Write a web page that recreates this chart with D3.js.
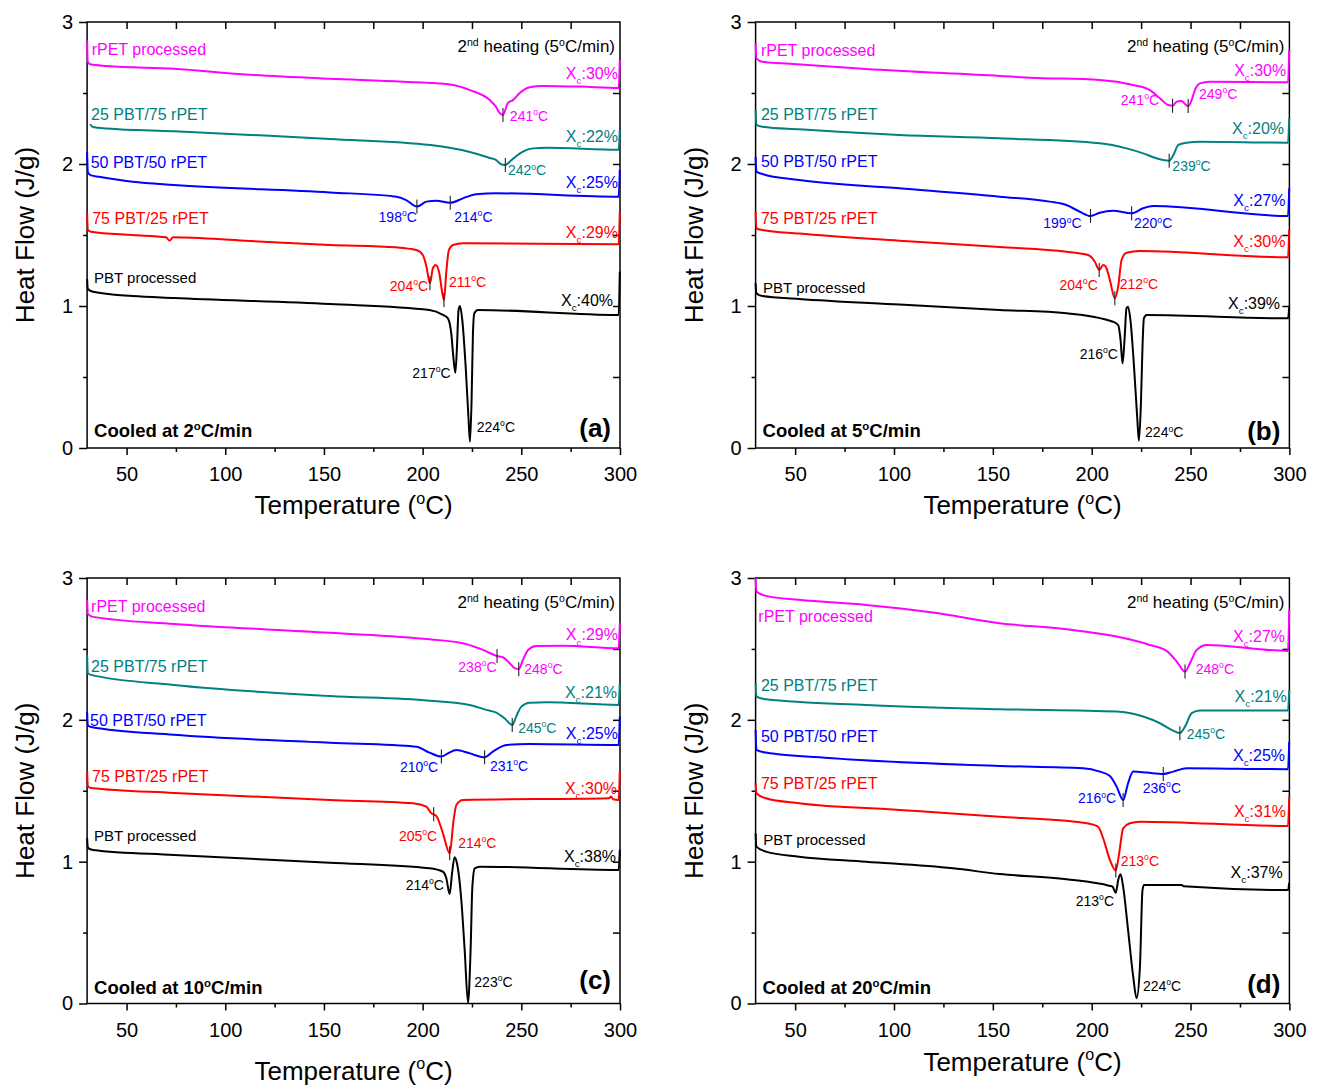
<!DOCTYPE html>
<html><head><meta charset="utf-8">
<script src="https://cdn.jsdelivr.net/npm/d3@7"></script>
<style>
body{margin:0;background:#fff;}
svg{display:block;font-family:"Liberation Sans",Arial,Helvetica,sans-serif;}
</style></head><body>
<svg id="chart" width="1320" height="1087"></svg>
<script>
// ---------------- DATA ----------------
const seriesNames = ["rPET processed","25 PBT/75 rPET","50 PBT/50 rPET","75 PBT/25 rPET","PBT processed"];
const seriesColors = ["#ff00ff","#008080","#0000ff","#ff0000","#000000"];
const xMajorTicks = [50,100,150,200,250,300];
const xMinorTicks = [75,125,175,225,275];
const xTopTicks = [50,75,100,125,150,175,200,225,250,275];
const yMajorTicks = [0,1,2,3];
const yMinorTicks = [0.5,1.5,2.5];
const yRightTicks = [0.5,1,1.5,2,2.5];
const coolingRates = ["2","5","10","20"];
const panelLetters = ["a","b","c","d"];

// panel (a) cooled at 2 C/min  [T (C), heat flow (J/g)]
const a_rPET = [[30.0,2.87],[30.3,2.72],[32,2.70],[40,2.69],[74,2.67],[110,2.63],[153,2.60],[190,2.58],[214,2.56],[224,2.52],[234,2.45],[237.3,2.40],[239,2.36],[240.7,2.345],[243.2,2.43],[245.8,2.45],[249.2,2.50],[254.2,2.54],[261,2.55],[280,2.545],[299.3,2.535],[299.9,2.73]];
const a_2575 = [[31.5,2.28],[33,2.26],[40,2.25],[74,2.23],[120,2.20],[153,2.176],[204,2.134],[224,2.085],[234,2.042],[237.3,2.028],[239,2.005],[241.9,1.993],[244.1,2.016],[247.5,2.056],[250.8,2.087],[255.9,2.11],[262.7,2.115],[299.3,2.10],[299.9,2.24]];
const a_5050 = [[30.0,2.085],[30.4,1.94],[32,1.92],[36,1.91],[53,1.875],[74,1.852],[153,1.80],[186.7,1.77],[191.7,1.746],[197.1,1.70],[201.9,1.735],[206.9,1.742],[214.0,1.727],[220.4,1.758],[227.2,1.787],[237.3,1.794],[299.3,1.77],[299.9,1.958]];
const a_7525 = [[30.0,1.657],[30.4,1.535],[32,1.523],[53,1.50],[70,1.484],[71.8,1.46],[73.5,1.484],[110,1.46],[153,1.43],[186.7,1.413],[196.8,1.394],[200.1,1.359],[201.9,1.28],[203.7,1.16],[205.2,1.266],[206.6,1.289],[208.3,1.242],[210.0,1.089],[210.8,1.042],[212.0,1.242],[213.3,1.394],[215.4,1.43],[220.4,1.442],[299.3,1.435],[299.9,1.664]];
const a_PBT = [[30.0,1.19],[30.4,1.12],[33,1.10],[53,1.07],[74,1.056],[153,1.014],[203.5,0.972],[210.3,0.937],[212.8,0.913],[214.5,0.808],[215.7,0.62],[216.6,0.53],[217.4,0.713],[218.2,0.972],[218.9,1.0],[220.1,0.901],[221.8,0.573],[223.2,0.22],[224.0,0.044],[224.8,0.338],[225.5,0.808],[226.2,0.949],[228.0,0.972],[299.3,0.937],[299.9,1.242]];

// panel (b) cooled at 5 C/min
const b_rPET = [[30.0,2.85],[30.4,2.744],[33.4,2.72],[43.6,2.709],[85.9,2.669],[153.4,2.62],[168.6,2.608],[204.1,2.592],[221,2.556],[229.4,2.521],[234.5,2.463],[238.7,2.415],[240.9,2.41],[243,2.439],[245.5,2.444],[247.2,2.423],[248.8,2.408],[250.6,2.451],[252.2,2.521],[254.8,2.568],[259.8,2.58],[299.3,2.575],[299.9,2.80]];
const b_2575 = [[30.0,2.38],[30.4,2.275],[33.4,2.263],[52,2.244],[102.7,2.204],[153.4,2.181],[204.1,2.146],[217.6,2.11],[226,2.075],[232.8,2.04],[239.2,2.023],[241.3,2.063],[243.8,2.134],[248,2.15],[254.8,2.157],[299.3,2.15],[299.9,2.322]];
const b_5050 = [[30.0,2.051],[30.4,1.946],[33.4,1.93],[52,1.887],[102.7,1.829],[153.4,1.77],[178.8,1.735],[187.2,1.711],[194,1.664],[199.4,1.634],[204.1,1.657],[210.8,1.671],[220.2,1.653],[226,1.688],[231.1,1.704],[299.3,1.634],[299.9,1.829]];
const b_7525 = [[30.0,1.664],[30.4,1.547],[33.4,1.535],[52,1.51],[102.7,1.46],[153.4,1.415],[187.2,1.382],[198.2,1.359],[201.6,1.312],[203.8,1.254],[205.8,1.289],[207.1,1.277],[209.2,1.183],[211.7,1.054],[213.4,1.136],[215.1,1.324],[217.6,1.375],[224.4,1.387],[299.3,1.343],[299.9,1.535]];
const b_PBT = [[30.0,1.16],[30.4,1.09],[33.4,1.07],[52,1.05],[102.7,1.01],[153.4,0.972],[187.2,0.949],[210.8,0.889],[213.4,0.866],[214.6,0.761],[215.6,0.596],[216.6,0.761],[217.6,0.984],[218.4,0.995],[219.6,0.901],[221.3,0.596],[223,0.22],[223.9,0.051],[224.9,0.315],[225.7,0.713],[226.4,0.913],[227.8,0.937],[299.3,0.913],[299.9,0.99]];

// panel (c) cooled at 10 C/min
const c_rPET = [[30.0,2.846],[30.4,2.747],[33,2.726],[74,2.676],[153,2.614],[203.5,2.568],[220.4,2.54],[230.6,2.493],[237.7,2.45],[240.7,2.441],[244.1,2.399],[246.6,2.364],[248.7,2.357],[250.8,2.422],[253.4,2.493],[257.6,2.521],[271.1,2.523],[299.3,2.505],[299.9,2.681]];
const c_2575 = [[30.0,2.458],[30.4,2.33],[32,2.317],[74,2.246],[153,2.168],[203.5,2.135],[223.8,2.105],[232.3,2.07],[237.3,2.051],[241.5,2.011],[245.4,1.964],[247.4,2.023],[250,2.093],[254.2,2.121],[262.7,2.124],[299.3,2.105],[299.9,2.258]];
const c_5050 = [[30.0,2.055],[30.4,1.96],[32,1.95],[74,1.894],[153,1.839],[196.8,1.811],[203.5,1.769],[209.5,1.741],[212.8,1.764],[217.1,1.788],[223.8,1.764],[231.4,1.736],[235.6,1.776],[242.4,1.823],[254.2,1.83],[299.3,1.823],[299.9,2.023]];
const c_7525 = [[30.0,1.64],[30.4,1.53],[32,1.52],[74,1.485],[153,1.435],[195.1,1.412],[201.9,1.388],[204.4,1.341],[205.6,1.334],[207.2,1.317],[210.3,1.2],[213.7,1.059],[215.7,1.294],[217.1,1.40],[220.4,1.435],[294.5,1.447],[295.5,1.46],[296.5,1.44],[299.3,1.435],[299.9,1.635]];
const c_PBT = [[30.0,1.167],[30.4,1.097],[33,1.083],[74,1.047],[153,0.993],[203.5,0.953],[210.3,0.929],[212,0.883],[213.7,0.772],[214.9,0.918],[216.2,1.031],[217.4,0.989],[219.6,0.73],[221.3,0.377],[223,0.006],[224.3,0.377],[225.2,0.824],[226.4,0.953],[228.9,0.965],[299.3,0.941],[299.9,1.083]];

// panel (d) cooled at 20 C/min
const d_rPET = [[30.0,3.0],[30.4,2.904],[35.2,2.874],[52,2.846],[85.9,2.81],[119.6,2.756],[153.4,2.681],[187.2,2.639],[212.6,2.587],[229.4,2.528],[237.9,2.486],[243,2.411],[247.2,2.34],[249.7,2.399],[253.1,2.493],[258.2,2.528],[299.3,2.486],[299.9,2.775]];
const d_2575 = [[30.0,2.258],[30.4,2.164],[35.2,2.145],[85.9,2.105],[153.4,2.075],[212.6,2.058],[226,2.023],[234.5,1.976],[240.4,1.929],[244.6,1.906],[247.2,1.952],[250.6,2.047],[254.8,2.065],[299.3,2.065],[299.9,2.211]];
const d_5050 = [[30.0,1.929],[30.4,1.788],[35.2,1.769],[68.9,1.729],[153.4,1.675],[195.6,1.659],[204.1,1.635],[209.2,1.604],[212.6,1.529],[215.9,1.435],[218.4,1.553],[221,1.635],[227.8,1.628],[236.2,1.618],[241.3,1.635],[248,1.659],[299.3,1.652],[299.9,1.846]];
const d_7525 = [[30.0,1.553],[30.4,1.482],[35.2,1.447],[52,1.412],[102.7,1.365],[153.4,1.317],[195.6,1.275],[203.2,1.247],[205.8,1.165],[209.2,1.012],[212.2,0.937],[213.9,1.059],[215.9,1.235],[219.3,1.271],[224.4,1.282],[299.3,1.252],[299.9,1.458]];
const d_PBT = [[30.0,1.2],[30.4,1.106],[35.2,1.071],[52,1.035],[85.9,1.0],[129.8,0.953],[153.4,0.913],[187.2,0.876],[209.2,0.829],[210.5,0.824],[212.2,0.781],[213.4,0.871],[214.6,0.911],[215.9,0.824],[218.4,0.518],[221,0.189],[222.7,0.037],[224.4,0.26],[225.7,0.80],[226.5,0.836],[245.5,0.836],[246.5,0.826],[299.3,0.80],[299.9,0.85]];

// crystallinity (%) per series
const a_xc = [30,22,25,29,40];
const b_xc = [30,20,27,30,39];
const c_xc = [29,21,25,30,38];
const d_xc = [27,21,25,31,37];

// peak markers: [series index, peak temperature]
const a_peaks = [[0,240.7],[1,241.9],[2,197.1],[2,214.0],[3,203.7],[3,210.8]];
const b_peaks = [[0,240.9],[0,248.8],[1,239.2],[2,199.4],[2,220.2],[3,203.8],[3,211.7]];
const c_peaks = [[0,237.7],[0,248.7],[1,245.4],[2,209.5],[2,231.4],[3,205.6],[3,213.7]];
const d_peaks = [[0,247.2],[1,244.6],[2,215.9],[2,236.2],[3,212.2]];

// peak temperature labels: [series index, label value]
const a_peakLabels = [[0,241],[1,242],[2,198],[2,214],[3,204],[3,211],[4,217],[4,224]];
const b_peakLabels = [[0,241],[0,249],[1,239],[2,199],[2,220],[3,204],[3,212],[4,216],[4,224]];
const c_peakLabels = [[0,238],[0,248],[1,245],[2,210],[2,231],[3,205],[3,214],[4,214],[4,223]];
const d_peakLabels = [[0,248],[1,245],[2,216],[2,236],[3,213],[4,213],[4,224]];

// ---------------- LAYOUT (annotation anchors in data coords) ----------------
const a_peakLabelAt = [[244.2,2.338,"start"],[243.2,1.954,"start"],[197.1,1.627,"end"],[216.0,1.627,"start"],[202.8,1.141,"end"],[213.3,1.171,"start"],[214.2,0.53,"end"],[227.4,0.15,"start"]];
const b_peakLabelAt = [[234.1,2.451,"end"],[254.3,2.493,"start"],[240.8,1.986,"start"],[194.9,1.582,"end"],[221.4,1.582,"start"],[203.1,1.148,"end"],[214.2,1.155,"start"],[213.3,0.662,"end"],[227.0,0.11,"start"]];
const c_peakLabelAt = [[237.5,2.375,"end"],[251.5,2.357,"start"],[248.4,1.945,"start"],[207.9,1.67,"end"],[234.1,1.675,"start"],[207.4,1.181,"end"],[218.0,1.134,"start"],[210.8,0.836,"end"],[226.2,0.154,"start"]];
const d_peakLabelAt = [[252.6,2.357,"start"],[248.1,1.901,"start"],[212.4,1.447,"end"],[225.8,1.518,"start"],[214.7,1.007,"start"],[211.3,0.725,"end"],[225.9,0.123,"start"]];

const a_nameAt = [[32.3,2.81],[32.0,2.352],[31.8,2.014],[32.6,1.62],[33.5,1.197]];
const b_nameAt = [[32.7,2.803],[32.7,2.35],[32.7,2.016],[32.7,1.618],[33.8,1.127]];
const c_nameAt = [[32.0,2.803],[32.0,2.38],[31.5,1.999],[32.5,1.604],[33.5,1.181]];
const d_nameAt = [[31.4,2.728],[32.7,2.246],[32.7,1.882],[32.7,1.553],[33.9,1.153]];

const a_xcAt = [[298.95,2.641],[298.95,2.197],[298.95,1.873],[298.95,1.521],[296.5,1.042]];
const b_xcAt = [[298.4,2.662],[297.3,2.251],[298.0,1.746],[298.0,1.453],[295.3,1.019]];
const c_xcAt = [[298.95,2.599],[298.5,2.192],[298.95,1.905],[298.5,1.518],[298.0,1.035]];
const d_xcAt = [[297.8,2.587],[298.6,2.164],[297.8,1.752],[298.3,1.353],[296.6,0.922]];

const panels = [
  {box:{l:87.1,r:620,t:22,b:448}, curves:[a_rPET,a_2575,a_5050,a_7525,a_PBT], xc:a_xc, xcAt:a_xcAt, peaks:a_peaks, pl:a_peakLabels, plAt:a_peakLabelAt, nameAt:a_nameAt, letterDy:-20.5, coolDy:-17, xTitleDy:57},
  {box:{l:755.6,r:1289.4,t:22,b:448}, curves:[b_rPET,b_2575,b_5050,b_7525,b_PBT], xc:b_xc, xcAt:b_xcAt, peaks:b_peaks, pl:b_peakLabels, plAt:b_peakLabelAt, nameAt:b_nameAt, letterDy:-17, coolDy:-17, xTitleDy:57},
  {box:{l:87.1,r:620,t:578,b:1003.5}, curves:[c_rPET,c_2575,c_5050,c_7525,c_PBT], xc:c_xc, xcAt:c_xcAt, peaks:c_peaks, pl:c_peakLabels, plAt:c_peakLabelAt, nameAt:c_nameAt, letterDy:-24, coolDy:-16, xTitleDy:67},
  {box:{l:755.6,r:1289.4,t:578,b:1003.5}, curves:[d_rPET,d_2575,d_5050,d_7525,d_PBT], xc:d_xc, xcAt:d_xcAt, peaks:d_peaks, pl:d_peakLabels, plAt:d_peakLabelAt, nameAt:d_nameAt, letterDy:-20, coolDy:-16, xTitleDy:58}
];

// ---------------- DRAW ----------------
const svg = d3.select("#chart");
svg.append("rect").attr("width",1320).attr("height",1087).attr("fill","#fff");

// rich text: ^sup^ and _sub_
function rich(sel, str, fs){
  const parts = str.split(/(\^[^\^]*\^|_[^_]*_)/).filter(s=>s.length);
  let cur = 0;
  parts.forEach(p=>{
    let t=p, target=0, size=null;
    if(p[0]==="^"){ t=p.slice(1,-1); target=-0.40*fs; size=0.62*fs; }
    else if(p[0]==="_"){ t=p.slice(1,-1); target=0.32*fs; size=0.62*fs; }
    const ts = sel.append("tspan").text(t).attr("dy", target-cur);
    if(size) ts.attr("font-size", size);
    cur = target;
  });
}
function label(g, x, yc, str, fs, opts={}){
  const t = g.append("text").attr("x",x).attr("y",yc+0.35*fs)
    .attr("font-size",fs).attr("text-anchor",opts.anchor||"start")
    .attr("fill",opts.fill||"#000");
  if(opts.bold) t.attr("font-weight","bold");
  rich(t,str,fs);
  return t;
}
function valueAt(data, T){
  for(let i=1;i<data.length;i++){
    if(T<=data[i][0]){
      const [x0,y0]=data[i-1],[x1,y1]=data[i];
      return y0+(y1-y0)*(T-x0)/(x1-x0);
    }
  }
  return data[data.length-1][1];
}

panels.forEach((p,pi)=>{
  const {l,r,t,b} = p.box;
  const x = d3.scaleLinear().domain([30,300]).range([l,r]);
  const y = d3.scaleLinear().domain([0,3]).range([b,t]);
  const g = svg.append("g");

  const styleAxis = sel => {
    sel.select(".domain").remove();
    sel.selectAll(".tick line").attr("stroke","#000").attr("stroke-width",1.5);
    sel.attr("font-size",20).attr("font-family","Liberation Sans, Arial, sans-serif");
    sel.selectAll(".tick text").attr("fill","#000");
  };
  g.append("g").attr("transform",`translate(0,${b})`)
    .call(d3.axisBottom(x).tickValues(xMajorTicks).tickSize(7).tickPadding(12).tickFormat(d3.format("d"))).call(styleAxis);
  g.append("g").attr("transform",`translate(0,${b})`)
    .call(d3.axisBottom(x).tickValues(xMinorTicks).tickSize(4).tickFormat("")).call(styleAxis);
  g.append("g").attr("transform",`translate(0,${t})`)
    .call(d3.axisTop(x).tickValues(xTopTicks).tickSize(-7).tickFormat("")).call(styleAxis);
  g.append("g").attr("transform",`translate(${l},0)`)
    .call(d3.axisLeft(y).tickValues(yMajorTicks).tickSize(8).tickPadding(6).tickFormat(d3.format("d"))).call(styleAxis);
  g.append("g").attr("transform",`translate(${l},0)`)
    .call(d3.axisLeft(y).tickValues(yMinorTicks).tickSize(4).tickFormat("")).call(styleAxis);
  g.append("g").attr("transform",`translate(${r},0)`)
    .call(d3.axisRight(y).tickValues(yRightTicks).tickSize(-7).tickFormat("")).call(styleAxis);

  g.append("rect").attr("x",l).attr("y",t).attr("width",r-l).attr("height",b-t)
    .attr("fill","none").attr("stroke","#000").attr("stroke-width",1.5);

  // curves
  const line = d3.line().x(d=>x(d[0])).y(d=>y(d[1])).curve(d3.curveMonotoneX);
  p.curves.forEach((c,i)=>{
    g.append("path").datum(c).attr("d",line).attr("fill","none")
      .attr("stroke",seriesColors[i]).attr("stroke-width",2).attr("stroke-linejoin","round");
  });

  // peak marker ticks
  p.peaks.forEach(([si,T])=>{
    const px = x(T), py = y(valueAt(p.curves[si],T));
    g.append("line").attr("x1",px).attr("x2",px).attr("y1",py-7).attr("y2",py+7)
      .attr("stroke","#222").attr("stroke-width",1.1);
  });

  // peak labels
  p.pl.forEach(([si,val],k)=>{
    const [T,v,anc] = p.plAt[k];
    label(g, x(T), y(v), `${val}^o^C`, 14, {anchor:anc, fill:seriesColors[si]});
  });

  // series names
  seriesNames.forEach((nm,i)=>{
    const [T,v] = p.nameAt[i];
    label(g, x(T), y(v), nm, i===4?15:16, {fill:seriesColors[i]});
  });

  // crystallinity
  p.xc.forEach((val,i)=>{
    const [T,v] = p.xcAt[i];
    label(g, x(T), y(v), `X_c_:${val}%`, 16, {anchor:"end", fill:seriesColors[i]});
  });

  // panel texts
  label(g, r-5, t+24.5, "2^nd^ heating (5^o^C/min)", 17, {anchor:"end"});
  label(g, l+7, b+p.coolDy, `Cooled at ${coolingRates[pi]}^o^C/min`, 18.5, {bold:true});
  label(g, r-9, b+p.letterDy, `(${panelLetters[pi]})`, 26, {anchor:"end", bold:true});

  // axis titles
  label(g, (l+r)/2, b+p.xTitleDy, "Temperature (^o^C)", 26, {anchor:"middle"});
  const yt = g.append("text").attr("transform",`translate(${l-62+0.35*26},${(t+b)/2}) rotate(-90)`)
    .attr("font-size",26).attr("text-anchor","middle").attr("fill","#000").text("Heat Flow (J/g)");
});
</script>
</body></html>
